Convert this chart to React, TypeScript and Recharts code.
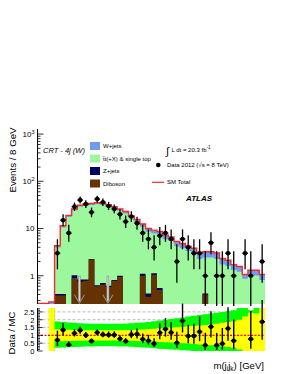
import React from 'react'
import {
  ComposedChart, Area, Line, Scatter, XAxis, YAxis, ErrorBar,
  ReferenceLine, CartesianGrid,
} from 'recharts'

const FONT = '"Liberation Sans", Arial, Helvetica, sans-serif'

// 8 GeV bins, lower edges
const BIN_LOW = [0, 8, 16, 24, 32, 40, 48, 56, 64, 72, 80, 88, 96, 104, 112, 120, 128, 136, 144, 152,
  160, 168, 176, 184, 192, 200, 208, 216, 224, 232, 240, 248, 256, 264, 272, 280, 288, 296, 304, 312]
const BIN_W = 8
const X_MAX = 320

// background stack (events / bin)
const W_JETS = [0.26, 0.26, 0.28, 0.35, 0.9, 1.5, 2.0, 2.3, 2.4, 2.4, 2.5, 2.5, 2.5, 2.4, 2.3, 2.2, 2.0, 1.8, 1.6, 1.5,
  1.4, 1.4, 1.3, 1.2, 1.1, 1.0, 0.9, 0.85, 0.75, 0.8, 0.8, 0.75, 0.6, 0.5, 0.4, 0.35, 0.2, 0.3, 0.3, 0.25]
const TTBAR = [0, 0, 0, 3.55, 10.1, 17.45, 22.95, 27.9, 29.8, 29.3, 31.9, 30.8, 28.9, 25.8, 22.7, 20.75, 16.45, 13.65, 9.8, 8.1,
  6.7, 6.7, 5.9, 5.4, 4.2, 3.8, 3.3, 2.95, 2.25, 2.0, 2.4, 2.25, 1.7, 1.6, 1.3, 1.2, 0.85, 1.0, 1.0, 0.8]
const Z_JETS = [0, 0, 0, 0.03, 0.03, 0.05, 0.12, 0.08, 0.05, 0.05, 0.03, 0.05, 0.03, 0.03, 0.05, 0.05, 0.04, 0.04, 0.1, 0.06,
  0.08, 0.05, 0.03, 0.03, 0.02, 0.02, 0.02, 0.02, 0.02, 0.02, 0.02, 0.02, 0.02, 0.02, 0.02, 0.02, 0.01, 0.01, 0.01, 0.01]
const DIBOSON = [0, 0, 0, 0.38, 0.38, 0, 0.9, 0.75, 0.78, 2.2, 0.6, 0.65, 0.58, 0.78, 0.95, 0, 0, 0, 1.0, 0.36,
  1.05, 0.5, 0, 0, 0, 0, 0, 0, 0, 0.4, 0, 0, 0, 0, 0, 0, 0, 0, 0, 0]

// data 2012
const DATA = [null, null, null, 3, 15, 8, 29, 40, 33, 22, 42, 36, 30, 26, 20, 14, 18, 13, 8, 6,
  4, 7, 8, 6, 2, 6, 4, 3, 3, 1, 5, 1, 1, 3, 1, null, 3, 1, null, 2]
const DATA_ERR_LO = [null, null, null, 1.63, 3.83, 2.77, 5.36, 6.3, 5.73, 4.66, 6.46, 5.98, 5.45, 5.06, 4.44, 3.71, 4.2, 3.58, 2.77, 2.38,
  1.91, 2.58, 2.77, 2.38, 1.29, 2.38, 1.91, 1.63, 1.63, 0.83, 2.16, 0.83, 0.83, 1.63, 0.83, null, 1.63, 0.83, null, 1.29]
const DATA_ERR_HI = [null, null, null, 2.92, 4.95, 3.95, 6.46, 7.38, 6.85, 5.76, 7.55, 7.06, 6.55, 6.16, 5.52, 4.8, 5.29, 4.67, 3.95, 3.58,
  3.16, 3.77, 3.95, 3.58, 2.64, 3.58, 3.16, 2.92, 2.92, 2.3, 3.38, 2.3, 2.3, 2.92, 2.3, null, 2.92, 2.3, null, 2.64]

// data / MC
const RATIO = [null, null, null, 0.7, 1.35, 0.4, 1.13, 1.32, 1.0, 0.63, 1.18, 1.05, 1.03, 1.03, 0.78, 0.62, 1.05, 1.08, 0.75, 0.66,
  0.47, 1.17, 1.4, 1.18, 0.53, 1.93, 0.96, 0.96, 1.23, 0.36, 1.55, 0.36, 0.47, 1.44, 0.66, null, null, 0.76, null, 1.87]
const RATIO_ERR_LO = [null, null, null, 0.38, 0.34, 0.15, 0.2, 0.21, 0.17, 0.13, 0.17, 0.17, 0.18, 0.19, 0.17, 0.16, 0.23, 0.28, 0.26, 0.25,
  0.22, 0.42, 0.48, 0.46, 0.33, 0.75, 0.46, 0.5, 0.6, 0.3, 0.68, 0.3, 0.38, 0.78, 0.55, null, null, 0.62, null, 1.15]
const RATIO_ERR_HI = [null, null, null, 0.6, 0.44, 0.2, 0.25, 0.25, 0.21, 0.17, 0.2, 0.2, 0.22, 0.24, 0.22, 0.21, 0.29, 0.36, 0.37, 0.38,
  0.35, 0.6, 0.7, 0.68, 0.7, 1.1, 0.72, 0.8, 0.98, 0.8, 1.0, 0.8, 1.0, 1.35, 1.35, null, null, 1.8, null, 2.3]

// uncertainty bands on the ratio
const YELLOW_LO = [0, 0, 0, 0.62, 0.63, 0.64, 0.65, 0.66, 0.66, 0.67, 0.67, 0.67, 0.67, 0.67, 0.66, 0.66, 0.65, 0.64, 0.63, 0.62,
  0.6, 0.58, 0.56, 0.54, 0.52, 0.5, 0.48, 0.45, 0.42, 0.4, 0.36, 0.33, 0.3, 0.25, 0.2, 0.1, 0, 0, 0, 0]
const YELLOW_HI = [0, 0, 2.75, 1.38, 1.37, 1.36, 1.35, 1.34, 1.33, 1.33, 1.32, 1.32, 1.32, 1.32, 1.33, 1.34, 1.35, 1.36, 1.38, 1.4,
  1.42, 1.45, 1.48, 1.5, 1.52, 1.55, 1.58, 1.6, 1.63, 1.66, 1.7, 1.75, 1.8, 1.85, 1.9, 2.0, 2.2, 2.45, 2.4, 2.75]
const GREEN_LO = [0, 0, 0, 0.2, 0.22, 0.24, 0.26, 0.27, 0.28, 0.29, 0.3, 0.3, 0.3, 0.3, 0.29, 0.28, 0.27, 0.25, 0.23, 0.2,
  0.18, 0.15, 0.12, 0.1, 0.08, 0.05, 0.03, 0, 0, 0, 0, 0, 0, 0, 0, 0, 0, 0, 0, 0]
const GREEN_HI = [0, 0, 2.75, 1.88, 1.85, 1.82, 1.8, 1.78, 1.76, 1.75, 1.74, 1.74, 1.74, 1.74, 1.75, 1.76, 1.78, 1.8, 1.83, 1.86,
  1.9, 1.95, 2.0, 2.05, 2.1, 2.15, 2.2, 2.25, 2.3, 2.35, 2.4, 2.45, 2.5, 2.55, 2.6, 2.75, 2.75, 2.6, 2.75, 2.75]

const ARROWS_X = [59, 99]

const X_TICKS = [0, 10, 20, 30, 40, 50, 60, 70, 80, 90, 100, 110, 120, 130, 140, 150, 160, 170, 180, 190, 200,
  210, 220, 230, 240, 250, 260, 270, 280, 290, 300, 310, 320]
const LOG_TICKS = [0.3, 0.4, 0.5, 0.6, 0.7, 0.8, 0.9, 1, 2, 3, 4, 5, 6, 7, 8, 9, 10, 20, 30, 40, 50, 60, 70, 80, 90,
  100, 200, 300, 400, 500, 600, 700, 800, 900, 1000]
const LOG_LABELS: Record<number, [string, string]> = { 1: ['1', ''], 10: ['10', ''], 100: ['10', '2'], 1000: ['10', '3'] }
const RATIO_TICKS = [0, 0.1, 0.2, 0.3, 0.4, 0.5, 0.6, 0.7, 0.8, 0.9, 1, 1.1, 1.2, 1.3, 1.4, 1.5, 1.6, 1.7, 1.8, 1.9,
  2, 2.1, 2.2, 2.3, 2.4, 2.5, 2.6, 2.7]
const RATIO_LABELS = ['0', '0.5', '1', '1.5', '2', '2.5']

const Y_MIN = 0.252
const Y_MAX = 1280
const EMPTY = 1e-3

const LEGEND = [
  { label: 'W+jets', color: '#6f9cf2' },
  { label: 't\u0304t(+X) & single top', color: '#9df79d' },
  { label: 'Z+jets', color: '#000066' },
  { label: 'Diboson', color: '#663300' },
]

// stacked tops, bottom up: diboson, Z, ttbar, W
const stack = BIN_LOW.map((x, i) => {
  const d = DIBOSON[i]
  const z = d + Z_JETS[i]
  const tt = z + TTBAR[i]
  const tot = tt + W_JETS[i]
  return { x, dib: d || EMPTY, zj: z || EMPTY, tt: tt || EMPTY, tot: tot || EMPTY }
})
const histRows = [...stack, { ...stack[stack.length - 1], x: X_MAX }]

const dataPts = BIN_LOW.flatMap((x, i) => DATA[i] == null ? [] : [{
  x: x + BIN_W / 2, y: DATA[i], ey: [DATA_ERR_LO[i], DATA_ERR_HI[i]], ex: BIN_W / 2,
}])

const bandBins = BIN_LOW.map((x, i) => ({ x, yel: [YELLOW_LO[i], YELLOW_HI[i]], grn: [GREEN_LO[i], GREEN_HI[i]] }))
const bandRows = [...bandBins, { ...bandBins[bandBins.length - 1], x: X_MAX }]

const ratioPts = BIN_LOW.flatMap((x, i) => RATIO[i] == null ? [] : [{
  x: x + BIN_W / 2, y: RATIO[i], ey: [RATIO_ERR_LO[i], RATIO_ERR_HI[i]], ex: BIN_W / 2,
}])

// ROOT-style ticks, pointing into the frame
const xTick = (side: 'bottom' | 'top', major: number, minor: number, labels: boolean) => (p: any) => {
  const v = p.payload.value
  const isMajor = v % 50 === 0
  const len = isMajor ? major : minor
  const dir = side === 'bottom' ? -1 : 1
  return (
    <g>
      <line x1={p.x} x2={p.x} y1={p.y} y2={p.y + dir * len} stroke="#000" strokeWidth={0.8} />
      {labels && isMajor && (
        <text x={p.x} y={p.y + 8} textAnchor="middle" fontSize={8} fontFamily={FONT} fill="#000">{v}</text>
      )}
    </g>
  )
}

const logTick = (side: 'left' | 'right') => (p: any) => {
  const v = p.payload.value
  const lab = LOG_LABELS[v]
  const len = lab ? 6 : 3
  const dir = side === 'left' ? 1 : -1
  return (
    <g>
      <line x1={p.x} x2={p.x + dir * len} y1={p.y} y2={p.y} stroke="#000" strokeWidth={0.8} />
      {side === 'left' && lab && (
        <text x={p.x - 3} y={p.y + 2.8} textAnchor="end" fontSize={8} fontFamily={FONT} fill="#000">
          {lab[0]}
          {lab[1] && <tspan dy={-3.2} fontSize={5.5}>{lab[1]}</tspan>}
        </text>
      )}
    </g>
  )
}

const ratioTick = (side: 'left' | 'right') => (p: any) => {
  const v = p.payload.value
  const idx = Math.round(v * 2)
  const isMajor = Math.abs(v * 2 - idx) < 1e-6
  const len = isMajor ? 5 : 2.5
  const dir = side === 'left' ? 1 : -1
  return (
    <g>
      <line x1={p.x} x2={p.x + dir * len} y1={p.y} y2={p.y} stroke="#000" strokeWidth={0.8} />
      {side === 'left' && isMajor && (
        <text x={p.x - 3} y={p.y + 2.8} textAnchor="end" fontSize={7.5} fontFamily={FONT} fill="#000">{RATIO_LABELS[idx]}</text>
      )}
    </g>
  )
}

const dot = (p: any) => <circle cx={p.cx} cy={p.cy} r={2.3} fill="#000" />

const arrowShape = (p: any) => {
  const { x1, y1, y2 } = p
  return (
    <g>
      <line x1={x1} x2={x1} y1={y1} y2={y2 - 2} stroke="#9c9c9c" strokeWidth={2.6} />
      <line x1={x1} x2={x1} y1={y1 + 1} y2={y2 - 3} stroke="#dcdcdc" strokeWidth={1} />
      <path d={`M${x1 - 5},${y2 - 9} L${x1},${y2 - 0.5} L${x1 + 5},${y2 - 9}`} fill="none" stroke="#8a8a8a" strokeWidth={1.1} />
    </g>
  )
}

function MainPanel() {
  return (
    <ComposedChart width={289} height={306} data={histRows} margin={{ top: 129, right: 24, bottom: 2, left: 0 }}>
      <XAxis xAxisId="b" dataKey="x" type="number" domain={[0, X_MAX]} allowDataOverflow ticks={X_TICKS} interval={0}
        height={0} tickSize={0} tickMargin={0} tickLine={false} axisLine={{ stroke: '#000' }} tick={xTick('bottom', 5, 2.5, false)} />
      <XAxis xAxisId="t" orientation="top" dataKey="x" type="number" domain={[0, X_MAX]} allowDataOverflow ticks={X_TICKS} interval={0}
        height={0} tickSize={0} tickMargin={0} tickLine={false} axisLine={{ stroke: '#000' }} tick={xTick('top', 5, 2.5, false)} />
      <YAxis yAxisId="l" type="number" scale="log" domain={[Y_MIN, Y_MAX]} allowDataOverflow ticks={LOG_TICKS} interval={0}
        width={37.5} tickSize={0} tickMargin={0} tickLine={false} axisLine={{ stroke: '#000' }} tick={logTick('left')} />
      <YAxis yAxisId="r" orientation="right" type="number" scale="log" domain={[Y_MIN, Y_MAX]} allowDataOverflow ticks={LOG_TICKS} interval={0}
        width={0} tickSize={0} tickMargin={0} tickLine={false} axisLine={{ stroke: '#000' }} tick={logTick('right')} />

      <Area xAxisId="b" yAxisId="l" type="stepAfter" dataKey="tot" stroke="none" fill="#6f9cf2" fillOpacity={1} isAnimationActive={false} />
      <Area xAxisId="b" yAxisId="l" type="stepAfter" dataKey="tt" stroke="none" fill="#9df79d" fillOpacity={1} isAnimationActive={false} />
      <Area xAxisId="b" yAxisId="l" type="stepAfter" dataKey="zj" stroke="none" fill="#000066" fillOpacity={1} isAnimationActive={false} />
      <Area xAxisId="b" yAxisId="l" type="stepAfter" dataKey="dib" stroke="none" fill="#663300" fillOpacity={1} isAnimationActive={false} />
      <Line xAxisId="b" yAxisId="l" type="stepAfter" dataKey="tot" stroke="#f5282d" strokeWidth={1.4} dot={false} isAnimationActive={false} />
      <Line xAxisId="t" yAxisId="r" type="stepAfter" dataKey="tot" stroke="none" dot={false} isAnimationActive={false} />

      {ARROWS_X.map(ax => (
        <ReferenceLine key={ax} xAxisId="b" yAxisId="l" segment={[{ x: ax, y: 1 }, { x: ax, y: 0.256 }]} shape={arrowShape} />
      ))}

      <Scatter xAxisId="b" yAxisId="l" data={dataPts} dataKey="y" shape={dot} isAnimationActive={false}>
        <ErrorBar dataKey="ey" direction="y" width={0} stroke="#000" strokeWidth={1.3} isAnimationActive={false} />
        <ErrorBar dataKey="ex" direction="x" width={0} stroke="#000" strokeWidth={1.3} isAnimationActive={false} />
      </Scatter>
    </ComposedChart>
  )
}

function RatioPanel() {
  return (
    <ComposedChart width={289} height={74} data={bandRows} margin={{ top: 8, right: 24, bottom: 23, left: 0 }}>
      <CartesianGrid xAxisId="b" yAxisId="l" vertical={false} horizontalValues={[0.5, 1.5, 2, 2.5]} stroke="#888" strokeDasharray="3 2" strokeWidth={0.6} />
      <XAxis xAxisId="b" dataKey="x" type="number" domain={[0, X_MAX]} allowDataOverflow ticks={X_TICKS} interval={0}
        height={0} tickSize={0} tickMargin={0} tickLine={false} axisLine={{ stroke: '#000' }} tick={xTick('bottom', 7, 3.5, true)} />
      <XAxis xAxisId="t" orientation="top" dataKey="x" type="number" domain={[0, X_MAX]} allowDataOverflow ticks={X_TICKS} interval={0}
        height={0} tickSize={0} tickMargin={0} tickLine={false} axisLine={{ stroke: '#000' }} tick={xTick('top', 7, 3.5, false)} />
      <YAxis yAxisId="l" type="number" domain={[0, 2.75]} allowDataOverflow ticks={RATIO_TICKS} interval={0}
        width={37.5} tickSize={0} tickMargin={0} tickLine={false} axisLine={{ stroke: '#000' }} tick={ratioTick('left')} />
      <YAxis yAxisId="r" orientation="right" type="number" domain={[0, 2.75]} allowDataOverflow ticks={RATIO_TICKS} interval={0}
        width={0} tickSize={0} tickMargin={0} tickLine={false} axisLine={{ stroke: '#000' }} tick={ratioTick('right')} />

      <Area xAxisId="b" yAxisId="l" type="stepAfter" dataKey="grn" stroke="none" fill="#00ff00" fillOpacity={1} isAnimationActive={false} />
      <Area xAxisId="b" yAxisId="l" type="stepAfter" dataKey="yel" stroke="none" fill="#ffff00" fillOpacity={1} isAnimationActive={false} />
      <Line xAxisId="t" yAxisId="r" type="stepAfter" dataKey="x" stroke="none" dot={false} isAnimationActive={false} />
      <ReferenceLine xAxisId="b" yAxisId="l" y={1} stroke="#ff0000" strokeWidth={1.3} strokeDasharray="2 1.5" />

      <Scatter xAxisId="b" yAxisId="l" data={ratioPts} dataKey="y" shape={dot} isAnimationActive={false}>
        <ErrorBar dataKey="ey" direction="y" width={0} stroke="#000" strokeWidth={1.4} isAnimationActive={false} />
        <ErrorBar dataKey="ex" direction="x" width={0} stroke="#000" strokeWidth={1.4} isAnimationActive={false} />
      </Scatter>
    </ComposedChart>
  )
}

function Overlay() {
  return (
    <svg width={289} height={374} style={{ position: 'absolute', left: 0, top: 0, pointerEvents: 'none' }} fontFamily={FONT}>
      <text transform="translate(13,160) rotate(-90)" dy="0.35em" textAnchor="middle" fontSize={9.7}>Events / 8 GeV</text>
      <text transform="translate(12,333) rotate(-90)" dy="0.35em" textAnchor="middle" fontSize={9.5}>Data / MC</text>
      <text x={264} y={369} textAnchor="end" fontSize={9.6}>
        m(j<tspan dy={2} fontSize={6.5}>i</tspan><tspan dy={-2}>j</tspan><tspan dy={2} fontSize={6.5}>k</tspan><tspan dy={-2}>) [GeV]</tspan>
      </text>

      <text x={43} y={152.5} fontSize={7.5} fontStyle="italic">CRT - 4j (W)</text>

      {LEGEND.map((l, i) => (
        <g key={l.label}>
          <rect x={90} y={142 + i * 12.5} width={10} height={8} fill={l.color} />
          <text x={103} y={148.3 + i * 12.5} fontSize={6}>{l.label}</text>
        </g>
      ))}

      <text x={166} y={155} fontSize={11}>{'\u222B'}</text>
      <text x={171.5} y={151.8} fontSize={6}>L dt = 20.3 fb<tspan dy={-2.5} fontSize={4.5}>-1</tspan></text>
      <circle cx={158.3} cy={165} r={2.3} fill="#000" />
      <text x={167} y={167} fontSize={6}>Data 2012 ({'\u221A'}s = 8 TeV)</text>
      <line x1={152} x2={164} y1={182.3} y2={182.3} stroke="#f5282d" strokeWidth={1.2} />
      <text x={167} y={184.3} fontSize={6}>SM Total</text>

      <text x={186} y={200.8} fontSize={8} fontWeight="bold" fontStyle="italic">ATLAS</text>
    </svg>
  )
}

export default function App() {
  return (
    <div style={{ position: 'relative', width: 289, height: 374, background: '#fff', fontFamily: FONT }}>
      <style>{'body{margin:0}'}</style>
      <div style={{ position: 'absolute', left: 0, top: 0 }}><MainPanel /></div>
      <div style={{ position: 'absolute', left: 0, top: 300 }}><RatioPanel /></div>
      <Overlay />
    </div>
  )
}
